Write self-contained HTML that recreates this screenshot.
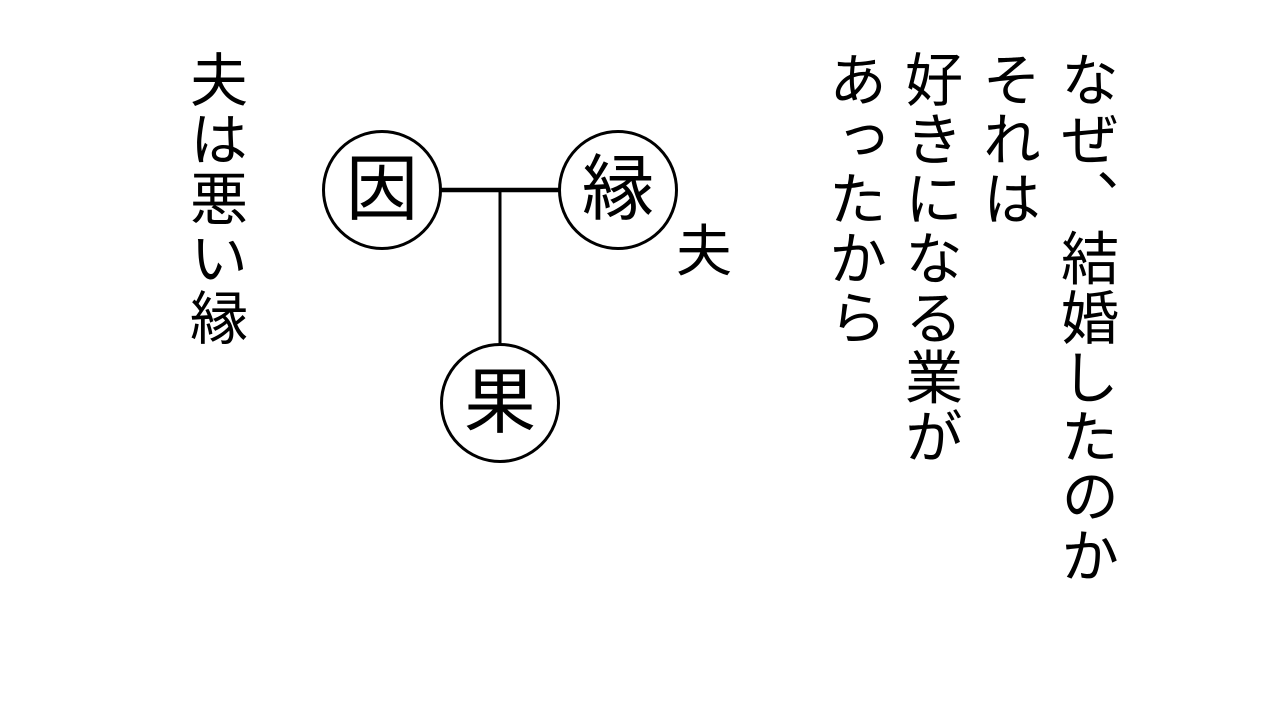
<!DOCTYPE html>
<html><head><meta charset="utf-8"><style>
html,body{margin:0;padding:0;background:#fff;}
body{width:1280px;height:720px;position:relative;overflow:hidden;font-family:"Liberation Sans","Noto Sans CJK JP",sans-serif;color:#000;font-weight:normal;}
.v{position:absolute;writing-mode:vertical-rl;font-size:58px;line-height:1;letter-spacing:1.5px;}
.c{position:absolute;width:114px;height:114px;border:3px solid #000;border-radius:50%;display:flex;align-items:center;justify-content:center;font-size:72px;line-height:1;box-sizing:content-box;background:#fff;}
</style></head><body>
<svg width="1280" height="720" style="position:absolute;left:0;top:0">
<line x1="440" y1="190" x2="560" y2="190" stroke="#000" stroke-width="4.5"/>
<line x1="500" y1="190" x2="500" y2="345" stroke="#000" stroke-width="3"/>
</svg>
<div class="c" style="left:322px;top:130px">因</div>
<div class="c" style="left:558px;top:130px">縁</div>
<div class="c" style="left:440px;top:343px">果</div>
<div style="position:absolute;left:676px;top:224px;font-size:56px;line-height:1">夫</div>
<div class="v" style="left:1055px;top:50px">なぜ、結婚したのか</div>
<div class="v" style="left:977px;top:50px">それは</div>
<div class="v" style="left:899px;top:50px">好きになる業が</div>
<div class="v" style="left:823px;top:50px">あったから</div>
<div class="v" style="left:184px;top:50px">夫は悪い縁</div>
</body></html>
